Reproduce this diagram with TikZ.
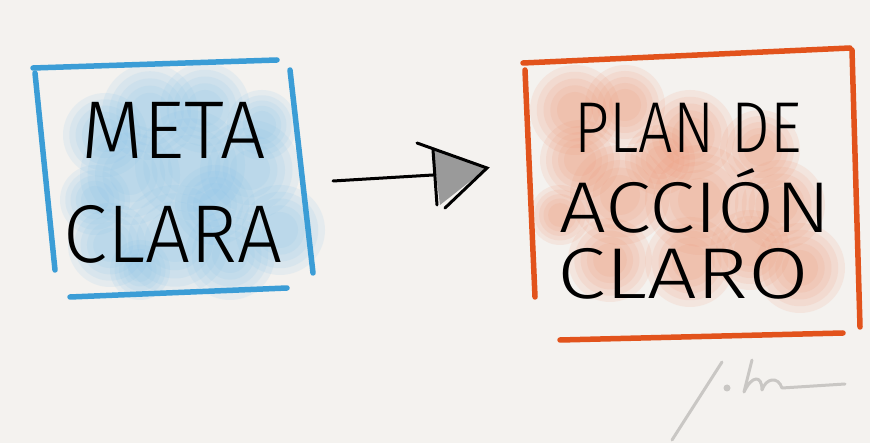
\documentclass[tikz,border=0pt]{standalone}
\usepackage{fontspec}
\setmainfont{Fira Sans}[UprightFont=* Light]

\definecolor{paper}{HTML}{F4F2EF}
\definecolor{metablue}{HTML}{3B9DD6}
\definecolor{washblue}{HTML}{86C2E8}
\definecolor{planorange}{HTML}{E2531C}
\definecolor{washorange}{HTML}{EE9472}
\definecolor{headgrey}{HTML}{9A9A9A}
\definecolor{signgrey}{HTML}{C9C7C4}

\tikzset{
  brush/.style={line width=5.5pt, line cap=round},
  bigtext/.style={inner sep=0pt, font=\fontsize{82}{82}\selectfont},
  midtext/.style={inner sep=0pt, font=\fontsize{72}{72}\selectfont},
}

% soft watercolour spot: x, y, radius, colour
\newcommand{\wash}[4]{%
  \foreach \k in {1.0,0.85,0.7,0.55,0.4}
    \fill[#4, opacity=0.13] (#1,#2) circle ({\k*#3});
}

\begin{document}
\begin{tikzpicture}[x=1pt, y=-1pt]
      \fill[paper] (0,0) rectangle (870,443);
      \useasboundingbox (0,0) rectangle (870,443);

      % blue wash
      \foreach \px/\py/\pr in {105/135/42, 150/112/48, 205/108/45, 262/125/35,
                               130/175/50, 190/165/55, 250/170/50, 280/230/45,
                               110/245/42, 175/240/55, 230/255/45, 140/270/30,
                               95/200/35, 215/205/40}
        \wash{\px}{\py}{\pr}{washblue};

      % left box
      \draw [brush, metablue] (33,68) -- (277,60);
      \draw [brush, metablue] (35,73) -- (55,270);
      \draw [brush, metablue] (290,70) -- (313,273);
      \draw [brush, metablue] (70,297) -- (287,288);

      \node [bigtext] (meta) at (174,130) {\scalebox{0.98}[1]{META}};
      \node [bigtext] (clara) at (173,234) {\scalebox{0.97}[1]{CLARA}};

      % arrow
      \coordinate (tail) at (333,181);
      \coordinate (headtop) at (433,150);
      \coordinate (tip) at (487,168);
      \coordinate (headbot) at (440,205);
      \fill [headgrey] (headtop) -- (tip) -- (headbot) -- cycle;
      \draw [line width=3pt, line cap=round] (tail) -- (433,175);
      \draw [line width=3pt, line cap=round] (headtop) -- (437,205);
      \draw [line width=3pt, line cap=round] (417,143) -- (tip) -- (445,208);

      % orange wash
      \foreach \px/\py/\pr in {575/110/45, 625/105/40, 580/160/40, 690/135/45,
                               760/150/40, 620/195/50, 700/200/55, 780/205/45,
                               610/260/42, 690/262/45, 750/250/40, 800/268/45,
                               560/215/30, 660/160/35}
        \wash{\px}{\py}{\pr}{washorange};

      % right box
      \draw [brush, planorange] (523,63) -- (850,48);
      \draw [brush, planorange] (852,50) -- (860,327);
      \draw [brush, planorange] (525,70) -- (535,297);
      \draw [brush, planorange] (560,340) -- (843,333);

      \node [midtext] (plan) at (688,128) {\scalebox{0.85}[1]{PLAN DE}};
      \node [midtext] (accion) at (695,201) {\scalebox{1.15}[1]{ACCIÓN}};
      \node [midtext] (claro) at (683,274) {\scalebox{1.22}[1]{CLARO}};

      % signature
      \draw [signgrey, line width=3pt, line cap=round]
        (672,440) -- (722,362);
      \fill [signgrey] (727,388) circle (3.5);
      \draw [signgrey, line width=3pt, line cap=round, line join=round]
        (752,360) -- (744,392) .. controls (752,375) and (762,375) .. (762,390)
        .. controls (766,378) and (778,376) .. (782,388) -- (845,384);
\end{tikzpicture}
\end{document}
